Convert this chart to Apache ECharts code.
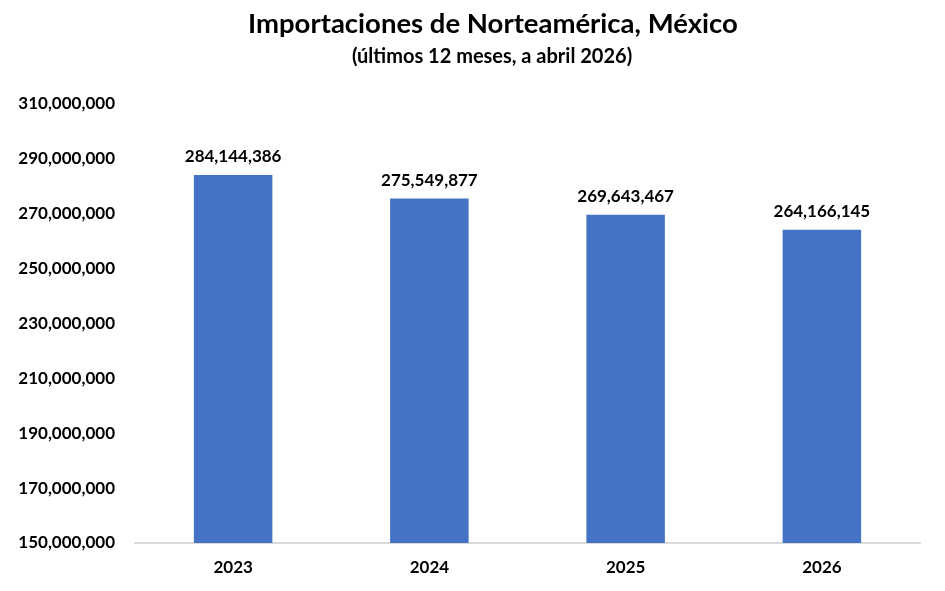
<!DOCTYPE html>
<html>
<head>
    <meta charset="UTF-8">
    <title>Importaciones de Norteamérica, México</title>
    <script src="https://cdn.jsdelivr.net/npm/echarts@6/dist/echarts.min.js"></script>
</head>
<body style="margin: 0; overflow: hidden; background: #fff;">
<div id="chart" style="width: 945px; height: 591px;"></div>
<script type="text/javascript">
    // data
    var years = ['2023', '2024', '2025', '2026'];
    var importValues = [284144386, 275549877, 269643467, 264166145];
    var axisMin = 150000000;
    var axisMax = 310000000;
    var axisStep = 20000000;

    var fontFamily = 'Lato, "Open Sans", sans-serif';

    function fmt(v) {
        return v.toLocaleString('en-US');
    }

    var chart = echarts.init(document.getElementById('chart'));
    var option = {
        backgroundColor: '#fff',
        animation: false,
        title: [{
            text: 'Importaciones de Norteamérica, México',
            left: 243,
            top: 5,
            textStyle: {
                fontFamily: fontFamily,
                fontSize: 27.5,
                fontWeight: 'bold',
                color: '#000'
            }
        }, {
            text: '(últimos 12 meses, a abril 2026)',
            left: 347,
            top: 42,
            textStyle: {
                fontFamily: fontFamily,
                fontSize: 20,
                fontWeight: 'bold',
                color: '#000'
            }
        }],
        grid: {
            left: 135,
            right: 25,
            top: 104,
            bottom: 48,
            containLabel: false
        },
        xAxis: {
            type: 'category',
            data: years,
            axisTick: {show: false},
            axisLine: {lineStyle: {color: '#d9d9d9', width: 2}},
            axisLabel: {
                margin: 16,
                fontFamily: fontFamily,
                fontSize: 17,
                fontWeight: 'bold',
                color: '#000'
            }
        },
        yAxis: {
            type: 'value',
            min: axisMin,
            max: axisMax,
            interval: axisStep,
            splitLine: {show: false},
            axisLine: {show: false},
            axisTick: {show: false},
            axisLabel: {
                margin: 20,
                fontFamily: fontFamily,
                fontSize: 17,
                fontWeight: 'bold',
                color: '#000',
                formatter: fmt
            }
        },
        series: [{
            type: 'bar',
            data: importValues,
            barWidth: '40%',
            itemStyle: {color: '#4472c4'},
            label: {
                show: true,
                position: 'top',
                distance: 10,
                fontFamily: fontFamily,
                fontSize: 17,
                fontWeight: 'bold',
                color: '#000',
                formatter: function (p) {
                    return fmt(p.value);
                }
            }
        }]
    };
    chart.setOption(option);
</script>
</body>
</html>
